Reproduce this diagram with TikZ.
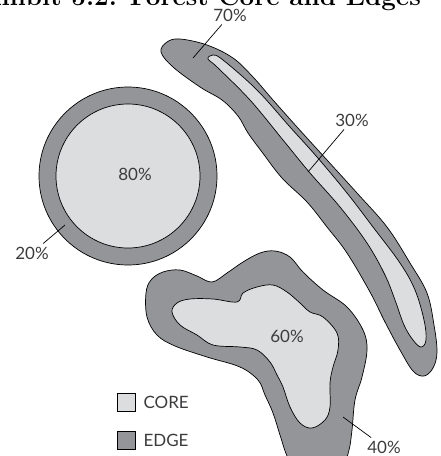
\documentclass[tikz,border=0pt]{standalone}
\usepackage{fontspec}
\setsansfont{Lato}
\usetikzlibrary{positioning}
\definecolor{edgegray}{RGB}{147,149,152}
\definecolor{coregray}{RGB}{220,221,223}
\definecolor{labelgray}{RGB}{60,60,62}
\begin{document}
\begin{tikzpicture}[x=1pt, y=-1pt,
    edge/.style={fill=edgegray, draw=black, line width=0.7pt},
    core/.style={fill=coregray, draw=black, line width=0.7pt},
    pct/.style={font=\sffamily\fontsize{17}{17}\selectfont, text=labelgray, inner sep=3pt},
    leader/.style={draw=black, line width=0.7pt}]
    \useasboundingbox (0,0) rectangle (441,456);

    \node[font=\bfseries\fontsize{26}{26}\selectfont, anchor=base east, inner sep=0pt] (title) at (421,5) {Exhibit 5.2: Forest Core and Edges};

    % round patch
    \draw[edge] (128,176) circle (89);
    \draw[core] (128,176) circle (72);

    % long strip
    \draw[edge] plot[smooth cycle, tension=0.6] coordinates {(161,52) (167,42) (180,39) (207,45) (233,58) (253,77) (273,100) (297,127) (327,160) (357,193) (387,227) (410,263) (427,293) (434,325) (437,352) (433,368) (424,376) (413,371) (400,350) (385,322) (370,292) (347,253) (327,227) (307,202) (282,178) (262,152) (248,133) (238,116) (222,100) (200,87) (173,67)};
    \draw[core] plot[smooth cycle, tension=0.6] coordinates {(208,59) (213,55) (223,60) (257,90) (290,127) (317,157) (347,193) (373,227) (400,263) (415,290) (424,320) (426,340) (421,347) (413,340) (404,325) (395,300) (385,275) (367,243) (340,207) (310,173) (283,140) (250,100) (217,67)};

    % lobed patch
    \draw[edge] plot[smooth cycle, tension=0.6] coordinates {(146,293) (151,280) (163,272) (180,270) (197,276) (212,282) (227,273) (243,262) (260,253) (275,251) (290,257) (303,272) (323,290) (347,307) (363,330) (367,350) (362,377) (355,400) (352,430) (349,450) (343,462) (320,472) (295,468) (287,456) (280,435) (273,413) (265,395) (258,380) (240,367) (207,357) (175,346) (157,335) (147,317)};
    \draw[core] plot[smooth cycle, tension=0.6] coordinates {(172,312) (177,303) (190,299) (213,299) (237,302) (243,293) (257,287) (273,285) (287,292) (300,303) (310,312) (323,317) (337,333) (338,350) (333,367) (330,383) (330,407) (325,420) (312,428) (300,423) (290,407) (283,387) (277,375) (270,362) (257,350) (240,347) (213,345) (197,335) (180,325)};

    \node[pct] (p80) at (135,174) {80\%};
    \node[pct] (p20) at (32,253) {20\%};
    \node[pct] (p70) at (230,15) {70\%};
    \node[pct] (p30) at (352,120) {30\%};
    \node[pct] (p60) at (287,336) {60\%};
    \node[pct] (p40) at (384,447) {40\%};

    \coordinate (c20) at (65,225);
    \coordinate (c70) at (193,58);
    \coordinate (c30) at (308,172);
    \coordinate (c40) at (343,417);
    \draw[leader] (c20) -- (p20);
    \draw[leader] (c70) -- (p70);
    \draw[leader] (c30) -- (p30);
    \draw[leader] (c40) -- (p40);

    % key
    \node[core, minimum size=18pt, inner sep=0pt] (corebox) at (126,402) {};
    \node[edge, minimum size=18pt, inner sep=0pt] (edgebox) at (126,440) {};
    \node[pct, right=5pt of corebox] (corelabel) {CORE};
    \node[pct, right=5pt of edgebox] (edgelabel) {EDGE};
\end{tikzpicture}
\end{document}
